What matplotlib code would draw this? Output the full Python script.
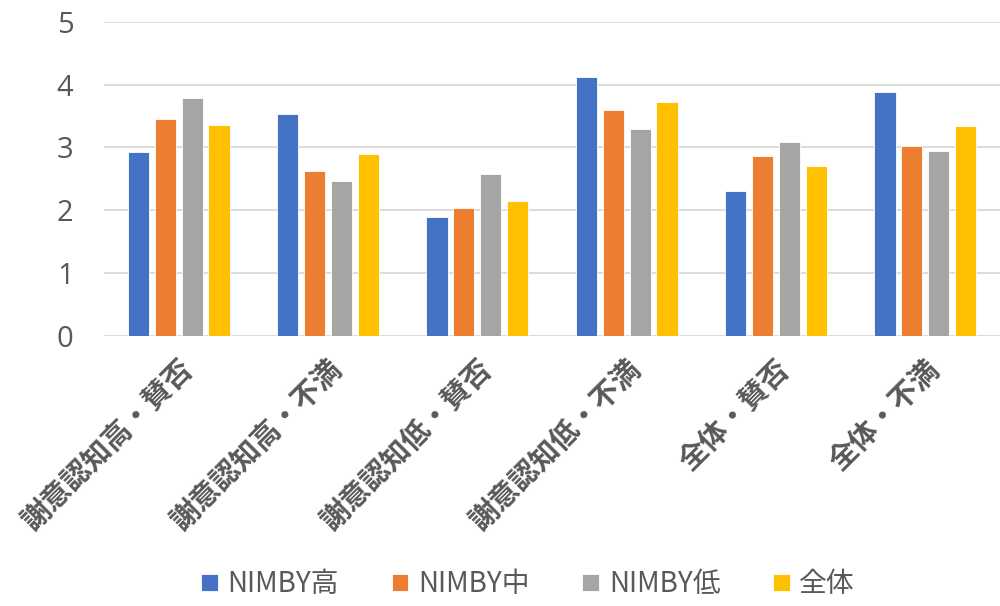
import matplotlib
matplotlib.use("Agg")
import matplotlib.pyplot as plt
import numpy as np

plt.rcParams['font.family'] = ['Noto Sans CJK JP', 'DejaVu Sans']

categories = ["謝意認知高・賛否", "謝意認知高・不満", "謝意認知低・賛否",
              "謝意認知低・不満", "全体・賛否", "全体・不満"]
series_names = ["NIMBY高", "NIMBY中", "NIMBY低", "全体"]
nimby_high = [2.92, 3.53, 1.89, 4.12, 2.30, 3.88]
nimby_mid = [3.45, 2.63, 2.04, 3.59, 2.87, 3.02]
nimby_low = [3.79, 2.46, 2.57, 3.29, 3.09, 2.95]
overall = [3.35, 2.89, 2.14, 3.73, 2.71, 3.34]
colors = ["#4472C4", "#ED7D31", "#A5A5A5", "#FFC000"]
yticks = [0, 1, 2, 3, 4, 5]

fig = plt.figure(figsize=(10, 6.06), dpi=100)
ax = fig.add_axes([0.104, 0.446, 0.896, 0.518])

x = np.arange(len(categories))
pitch = 0.18
width = 0.142
for i, (vals, name, c) in enumerate(zip([nimby_high, nimby_mid, nimby_low, overall],
                                         series_names, colors)):
    ax.bar(x + (i - 1.5) * pitch, vals, width=width, color=c, label=name,
           zorder=3, edgecolor='white', linewidth=0.6)

ax.set_xlim(-0.5, len(categories) - 0.5)
ax.set_ylim(0, 5)
ax.set_yticks(yticks)
ax.yaxis.grid(True, color='#D9D9D9', linewidth=1.3, zorder=0)
for s in ax.spines.values():
    s.set_visible(False)
ax.tick_params(axis='y', length=0, pad=22, labelsize=21, labelcolor='#595959')
ax.tick_params(axis='x', length=0, pad=14)
ax.set_xticks(x)
ax.set_xticklabels(categories, rotation=45, ha='right', rotation_mode='anchor',
                   fontsize=20.5, fontweight='bold', color='#595959')
for lbl in ax.get_yticklabels():
    lbl.set_family(['Open Sans', 'DejaVu Sans'])

leg = fig.legend(loc='lower center', bbox_to_anchor=(0.528, -0.03), ncol=4,
                 frameon=False, fontsize=20, handlelength=0.6, handleheight=0.6,
                 handletextpad=0.35, columnspacing=1.9, labelcolor='#595959')

fig.savefig("out.png", dpi=100, facecolor='white')
